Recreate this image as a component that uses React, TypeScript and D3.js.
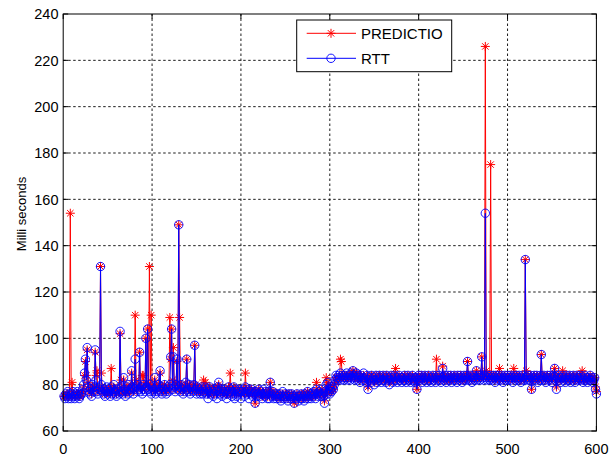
import React from "react";
import * as d3 from "d3";

// Sample index runs 1..600
const rtt: number[] = [
  75,74,76,75,77,74,76,75,74,76,77,75,74,76,75,77,76,74,75,76,
  76,78,80,85,91,82,96,79,77,76,78,75,80,77,79,95,82,77,76,78,
  79,131,80,77,76,78,75,77,79,76,78,77,75,79,76,78,80,77,76,75,
  78,77,76,103,79,77,76,83,78,75,77,79,76,80,78,77,86,79,76,78,
  91,79,77,80,78,94,77,79,76,80,78,77,100,79,104,78,80,77,76,79,
  77,78,83,76,79,77,80,78,86,77,76,79,78,80,77,76,78,79,77,80,
  92,104,78,92,79,77,80,91,78,149,79,77,80,78,76,79,77,81,91,78,
  77,80,76,79,78,77,80,97,78,76,79,77,78,76,77,79,76,78,77,79,
  76,78,74,77,79,76,78,77,75,76,78,77,74,79,81,77,76,78,75,77,
  76,78,77,74,76,79,77,78,76,75,77,79,74,78,75,77,76,78,77,74,
  77,76,78,75,79,77,76,78,74,77,76,78,75,77,76,72,77,75,76,78,
  75,77,76,74,78,76,75,77,76,74,77,74,81,76,75,77,74,76,75,74,
  76,75,74,76,73,75,77,74,75,76,74,75,73,76,75,74,76,75,74,72,
  75,74,76,75,73,75,74,76,74,75,73,76,74,75,77,74,76,75,74,76,
  75,77,76,74,78,76,75,77,76,75,78,76,75,72,77,80,76,81,77,76,
  78,77,79,78,80,82,84,83,82,84,83,85,82,84,83,82,84,83,85,82,
  83,84,82,85,83,86,84,82,83,85,82,84,83,81,84,82,83,85,82,83,
  81,84,78,82,83,81,84,82,83,80,82,84,81,83,82,84,83,81,82,84,
  82,83,81,84,82,83,80,82,84,83,81,82,84,83,82,81,83,84,82,83,
  81,83,82,84,82,81,83,84,82,83,81,82,84,83,82,81,83,78,82,84,
  83,82,84,81,83,82,84,83,81,82,84,83,82,81,83,84,82,83,81,84,
  82,83,84,82,81,83,87,82,84,83,81,82,84,83,82,84,81,83,82,84,
  83,82,81,84,83,82,84,83,81,82,84,83,82,84,90,82,83,84,82,81,
  83,84,82,83,86,82,84,83,82,84,92,83,82,84,154,83,82,84,83,82,
  84,83,82,84,83,81,84,82,83,84,82,83,84,82,81,83,84,82,83,84,
  82,83,84,82,83,81,84,83,82,84,83,82,84,83,81,82,84,83,82,134,
  83,82,84,83,82,84,78,83,82,84,83,82,84,81,83,82,84,93,82,83,
  84,82,81,83,84,82,83,84,82,81,83,84,87,82,78,83,84,82,83,81,
  83,84,82,83,81,84,82,83,82,84,81,83,82,84,83,81,82,84,83,82,
  83,84,82,83,81,82,84,83,82,81,83,82,84,82,83,81,82,83,78,76,
];

const predictio: number[] = [
  75,75,75,76,76,75,75,154,75,81,76,76,75,75,76,76,76,75,75,76,
  76,77,79,84,90,84,95,81,78,77,78,76,79,78,79,94,84,86,77,78,
  79,131,85,78,77,78,76,77,78,77,78,77,76,87,77,78,79,78,77,76,
  78,77,77,102,82,78,77,82,79,76,77,79,77,79,78,78,85,80,77,78,
  110,82,78,80,79,94,79,79,84,84,79,78,100,81,104,80,131,79,110,79,
  78,78,82,77,79,78,80,79,85,79,77,79,78,80,78,77,78,79,78,109,
  91,104,82,96,81,78,80,90,80,149,109,78,80,79,77,79,78,80,91,80,
  78,80,77,79,78,78,80,97,80,77,79,78,78,77,77,79,77,82,78,81,
  77,78,76,77,79,77,78,78,76,76,78,78,77,79,80,78,77,78,76,77,
  77,78,77,76,76,79,78,85,77,76,77,79,77,78,76,77,77,78,77,76,
  77,77,78,76,85,78,77,78,76,77,77,78,76,77,77,72,76,76,76,78,
  76,77,76,75,77,76,76,77,76,75,77,75,81,77,76,77,75,76,75,75,
  76,75,75,76,74,75,76,75,75,76,75,75,74,76,75,75,76,75,75,72,
  74,75,76,75,74,75,75,76,75,75,74,76,75,75,77,75,76,75,75,76,
  75,77,76,75,81,77,76,77,76,76,78,77,76,73,76,83,77,81,78,77,
  78,77,79,78,80,81,83,83,82,83,83,91,90,84,83,83,84,83,84,83,
  83,84,83,84,84,86,85,83,83,85,83,84,83,82,84,83,83,84,83,83,
  82,84,79,82,83,82,84,83,83,81,82,84,82,83,83,84,83,82,82,84,
  83,83,82,84,83,83,81,82,84,83,82,82,84,87,83,82,83,84,83,83,
  82,83,83,84,83,82,83,84,83,83,82,82,84,83,83,82,83,78,81,84,
  83,83,84,82,83,83,84,83,82,82,84,83,83,82,83,84,83,83,82,91,
  83,83,84,83,82,83,88,83,84,83,82,82,84,83,83,84,82,83,83,84,
  83,83,82,84,83,83,84,83,82,82,84,83,83,84,90,84,83,84,83,82,
  83,84,83,83,86,83,84,83,83,84,92,85,83,84,226,86,84,84,83,83,
  175,84,83,84,83,82,84,83,83,84,87,83,84,83,82,83,84,83,83,84,
  83,83,84,83,83,82,87,84,83,84,83,83,84,83,82,82,84,83,83,134,
  86,83,84,83,83,84,78,82,83,84,83,83,84,82,83,83,84,93,84,83,
  84,83,82,83,84,83,83,84,83,82,83,84,87,84,79,82,84,83,83,82,
  83,86,83,83,82,84,83,83,83,84,82,83,83,84,83,82,82,84,83,83,
  83,84,83,86,82,82,84,83,83,82,83,83,84,83,83,82,82,83,79,77,
];

const xTicks = [0, 100, 200, 300, 400, 500, 600];
const yTicks = [60, 80, 100, 120, 140, 160, 180, 200, 220, 240];
const seriesNames = ["PREDICTIO", "RTT"];
const yLabel = "Milli seconds";

const W = 610;
const H = 457;
const left = 63.2;
const right = 596.4;
const top = 14;
const bottom = 431;

const RED = "#ff0000";
const BLUE = "#0000ff";
const FONT = "'Liberation Sans', Arial, sans-serif";

const starPath = "M-4.5,0H4.5M0,-4.5V4.5M-3.2,-3.2L3.2,3.2M-3.2,3.2L3.2,-3.2";

export default function App() {
  const x = d3.scaleLinear().domain([0, 600]).range([left, right]);
  const y = d3.scaleLinear().domain([60, 240]).range([bottom, top]);

  const line = d3
    .line<number>()
    .x((_, i) => x(i + 1))
    .y((d) => y(d));

  const tickLen = 5;

  return (
    <svg
      width={W}
      height={H}
      style={{ position: "absolute", left: 0, top: 0, background: "#fff" }}
      fontFamily={FONT}
    >
      <rect x={0} y={0} width={W} height={H} fill="#fff" />
      {/* grid */}
      <g stroke="#000" strokeWidth={0.9} strokeDasharray="2.5,2.5">
        {xTicks.slice(1, -1).map((t) => (
          <line key={"gx" + t} x1={x(t)} x2={x(t)} y1={bottom} y2={top} />
        ))}
        {yTicks.slice(1, -1).map((t) => (
          <line key={"gy" + t} x1={left} x2={right} y1={y(t)} y2={y(t)} />
        ))}
      </g>

      {/* prediction series */}
      <path d={line(predictio) ?? ""} fill="none" stroke={RED} strokeWidth={1} />
      <g stroke={RED} strokeWidth={1} fill="none">
        {predictio.map((v, i) => (
          <path key={"p" + i} d={starPath} transform={`translate(${x(i + 1)},${y(v)})`} />
        ))}
      </g>

      {/* measured RTT series */}
      <path d={line(rtt) ?? ""} fill="none" stroke={BLUE} strokeWidth={1} />
      <g stroke={BLUE} strokeWidth={0.9} fill="none">
        {rtt.map((v, i) => (
          <circle key={"r" + i} cx={x(i + 1)} cy={y(v)} r={4.2} />
        ))}
      </g>

      {/* axes box and ticks */}
      <rect x={left} y={top} width={right - left} height={bottom - top} fill="none" stroke="#000" strokeWidth={1} />
      <g stroke="#000" strokeWidth={1}>
        {xTicks.map((t) => (
          <g key={"tx" + t}>
            <line x1={x(t)} x2={x(t)} y1={bottom} y2={bottom - tickLen} />
            <line x1={x(t)} x2={x(t)} y1={top} y2={top + tickLen} />
          </g>
        ))}
        {yTicks.map((t) => (
          <g key={"ty" + t}>
            <line x1={left} x2={left + tickLen} y1={y(t)} y2={y(t)} />
            <line x1={right} x2={right - tickLen} y1={y(t)} y2={y(t)} />
          </g>
        ))}
      </g>

      {/* tick labels */}
      <g fontSize={14.5} fill="#000">
        {xTicks.map((t) => (
          <text key={"lx" + t} x={x(t)} y={453.5} textAnchor="middle">
            {t}
          </text>
        ))}
        {yTicks.map((t) => (
          <text key={"ly" + t} x={58.5} y={y(t)} dy="0.36em" textAnchor="end">
            {t}
          </text>
        ))}
      </g>

      <text
        transform={`translate(21,214) rotate(-90)`}
        textAnchor="middle"
        dy="0.36em"
        fontSize={13}
        fill="#000"
      >
        {yLabel}
      </text>

      {/* legend */}
      <g>
        <rect x={296.7} y={20} width={155} height={51.7} fill="#fff" stroke="#000" strokeWidth={1} />
        <line x1={306.7} x2={356} y1={33.3} y2={33.3} stroke={RED} strokeWidth={1} />
        <path d={starPath} transform="translate(331,33.3)" stroke={RED} strokeWidth={1} fill="none" />
        <text x={361} y={33.3} dy="0.36em" fontSize={15} fill="#000">
          {seriesNames[0]}
        </text>
        <line x1={306.7} x2={356} y1={58.3} y2={58.3} stroke={BLUE} strokeWidth={1} />
        <circle cx={331} cy={58.3} r={4.2} stroke={BLUE} strokeWidth={0.9} fill="none" />
        <text x={361} y={58.3} dy="0.36em" fontSize={15} fill="#000">
          {seriesNames[1]}
        </text>
      </g>
    </svg>
  );
}
